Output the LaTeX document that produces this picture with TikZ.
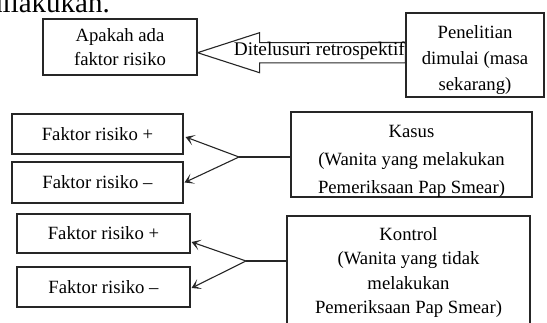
\documentclass[tikz,border=0pt]{standalone}
\usepackage{fontspec}
\setmainfont{Liberation Serif}
\usetikzlibrary{arrows.meta,calc}
\begin{document}
\begin{tikzpicture}[x=1pt,y=-1pt,
  box/.style={draw=black!85, line width=1.1pt, rectangle, inner sep=0pt, align=center, font=\fontsize{18.7}{25}\selectfont},
  txt/.style={inner sep=0pt, align=center},
  conn/.style={draw=black!85, line width=1.1pt},
  arr/.style={conn, -{Stealth[length=9pt,width=11pt,inset=5pt]}},
  ]
\useasboundingbox (0,0) rectangle (547,323);
% cropped heading text
\node[txt, font=\fontsize{29}{30}\selectfont, anchor=base east] (toptext) at (110,12.7) {dilakukan.};
% top row
\node[box, minimum width=154, minimum height=56, font=\fontsize{18.7}{23.5}\selectfont] (apakah) at (120,47) {Apakah ada\\faktor risiko};
\node[box, minimum width=138, minimum height=84] (pen) at (475,55) {};
\node[txt, font=\fontsize{18.7}{26}\selectfont] (pentxt) at (475,60.5) {Penelitian\\dimulai (masa\\sekarang)};
\coordinate (ay) at (300,52.7);
\draw[conn, line join=miter] (apakah.east |- ay) -- ++(62,-20) -- ++(0,10)
  -- ($(pen.west |- ay)+(0,-10.2)$) -- ($(pen.west |- ay)+(0,10.2)$)
  -- ($(apakah.east |- ay)+(62,10.2)$) -- ++(0,9.8) -- cycle;
\node[txt, font=\fontsize{19.3}{20}\selectfont, anchor=base east] (ditel) at (405,55.5) {Ditelusuri retrospektif};
% case row
\node[box, minimum width=171, minimum height=40] (fp1) at (97.5,134) {Faktor risiko +};
\node[box, minimum width=171, minimum height=41] (fm1) at (97.5,182.5) {Faktor risiko –};
\node[box, minimum width=241, minimum height=85] (kasus) at (411.5,154.5) {};
\node[txt, font=\fontsize{18.7}{28}\selectfont] (kasustxt) at (411.5,161.5) {Kasus\\(Wanita yang melakukan\\Pemeriksaan Pap Smear)};
\coordinate (f1) at (239,157);
\draw[conn] (kasus.west |- f1) -- (f1);
\draw[arr] (f1) -- ($(fp1.east)+(2,3)$);
\draw[arr] (f1) -- ($(fm1.east)+(1,0)$);
% control row
\node[box, minimum width=173, minimum height=39] (fp2) at (103.5,233.5) {Faktor risiko +};
\node[box, minimum width=173, minimum height=40] (fm2) at (103.5,287) {Faktor risiko –};
\node[box, minimum width=243, minimum height=113, font=\fontsize{18.7}{24.3}\selectfont] (kontrol) at (408.5,272.5) {Kontrol\\(Wanita yang tidak\\melakukan\\Pemeriksaan Pap Smear)};
\coordinate (f2) at (246,261);
\draw[conn] (kontrol.west |- f2) -- (f2);
\draw[arr] (f2) -- ($(fp2.east)+(1,8.5)$);
\draw[arr] (f2) -- ($(fm2.east)+(1,1)$);
\end{tikzpicture}
\end{document}
